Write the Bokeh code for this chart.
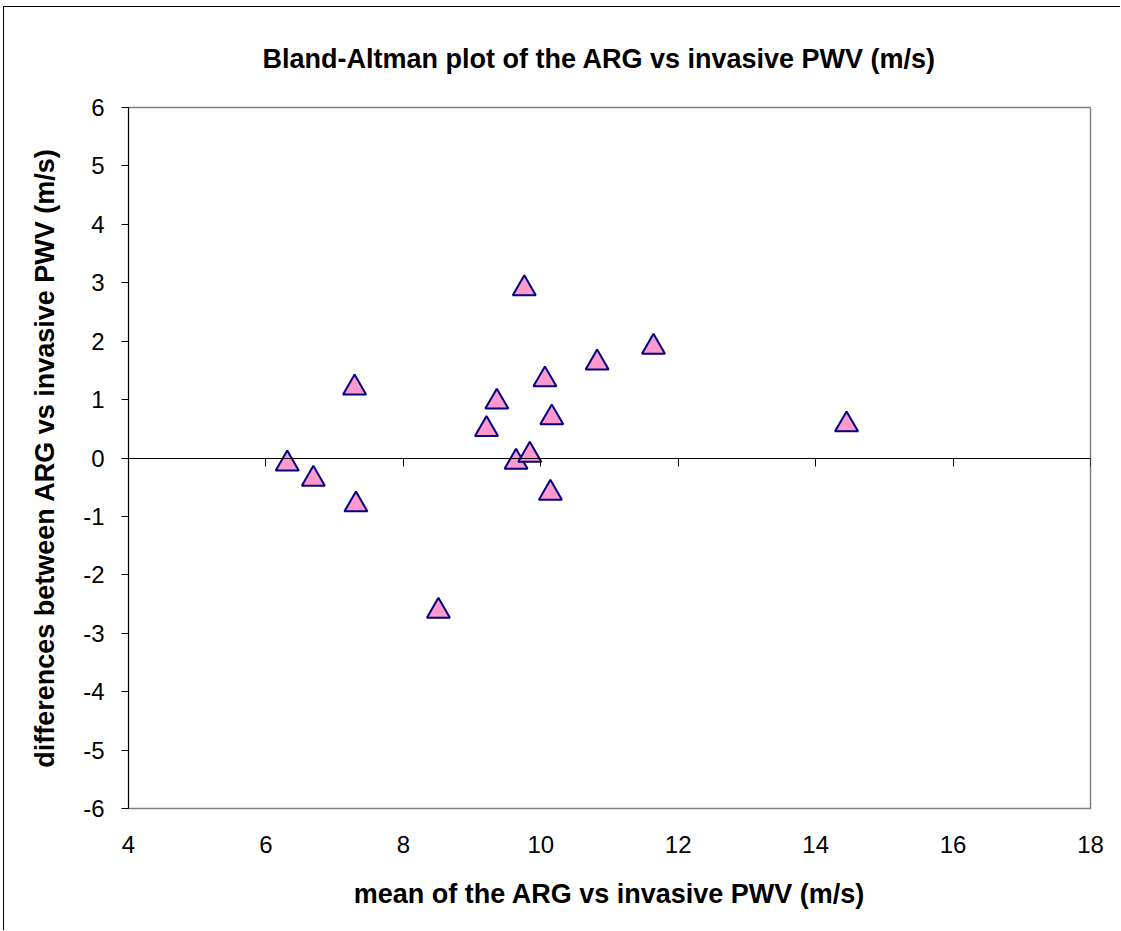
from bokeh.plotting import figure
from bokeh.models import LinearAxis, Range1d, FixedTicker
from bokeh.embed import file_html
from bokeh.resources import INLINE

# Data
mean_pwv = [6.31, 6.69, 7.29, 7.31, 8.51, 9.21, 9.36, 9.64, 9.84, 9.76, 10.06, 10.16, 10.14, 10.82, 11.64, 14.45]
diff_pwv = [-0.10, -0.36, 1.20, -0.80, -2.62, 0.49, 0.96, -0.07, 0.05, 2.90, 1.34, 0.69, -0.60, 1.63, 1.90, 0.57]
x_ticks = [4, 6, 8, 10, 12, 14, 16, 18]
y_ticks = [-6, -5, -4, -3, -2, -1, 0, 1, 2, 3, 4, 5, 6]

FONT = "Liberation Sans"

p = figure(width=1117, height=924, output_backend="svg", toolbar_location=None,
           x_range=Range1d(4, 18), y_range=Range1d(-6, 6),
           x_axis_location=None, y_axis_location=None,
           min_border_left=124, min_border_right=31, min_border_top=100, min_border_bottom=123,
           background_fill_color="white", border_fill_color="white")
p.grid.visible = False
p.outline_line_color = "#808080"
p.outline_line_width = 1.5

p.title.text = "Bland-Altman plot of the ARG vs invasive PWV (m/s)"
p.title.align = "left"
p.title.offset = 134
p.title.vertical_align = "top"
p.title.text_font = FONT
p.title.text_font_style = "bold"
p.title.text_font_size = "27px"
p.title.text_color = "black"
p.title.standoff = 64

# y axis
ya = LinearAxis(ticker=FixedTicker(ticks=y_ticks))
ya.axis_line_color = "black"
ya.axis_line_width = 1
ya.major_tick_out = 7
ya.major_tick_in = 0
ya.minor_tick_line_color = None
ya.major_label_text_font = FONT
ya.major_label_text_font_size = "24px"
ya.major_label_text_color = "black"
ya.major_label_standoff = 17
ya.major_label_overrides = {t: str(t) for t in y_ticks}
ya.axis_label = "differences between ARG vs invasive PWV (m/s)"
ya.axis_label_text_font = FONT
ya.axis_label_text_font_style = "bold"
ya.axis_label_text_font_size = "27px"
ya.axis_label_text_color = "black"
ya.axis_label_standoff = 20
p.add_layout(ya, "left")

# x axis labels at bottom (no line, no ticks)
xa = LinearAxis(ticker=FixedTicker(ticks=x_ticks))
xa.axis_line_color = None
xa.major_tick_line_color = None
xa.major_tick_out = 0
xa.major_tick_in = 0
xa.minor_tick_line_color = None
xa.major_label_text_font = FONT
xa.major_label_text_font_size = "24px"
xa.major_label_text_color = "black"
xa.major_label_standoff = 27
xa.axis_label = "mean of the ARG vs invasive PWV (m/s)"
xa.axis_label_text_font = FONT
xa.axis_label_text_font_style = "bold"
xa.axis_label_text_font_size = "27px"
xa.axis_label_text_color = "black"
xa.axis_label_standoff = 23
p.add_layout(xa, "below")

# x axis line crossing at zero
za = LinearAxis(ticker=FixedTicker(ticks=x_ticks), fixed_location=0)
za.axis_line_color = "black"
za.axis_line_width = 1
za.major_tick_out = 8
za.major_tick_in = 0
za.minor_tick_line_color = None
za.major_label_text_color = None
za.major_label_text_font_size = "1px"
p.add_layout(za, "below")

p.scatter(mean_pwv, diff_pwv, marker="triangle", size=23,
          fill_color="#FF99CC", line_color="#000080", line_width=2)

p.styles = {"border-left": "1px solid black", "border-top": "1px solid black",
            "border-right": "none", "border-bottom": "none",
            "margin-left": "3px", "margin-top": "6px"}

open("out.html", "w").write(file_html(p, INLINE))
